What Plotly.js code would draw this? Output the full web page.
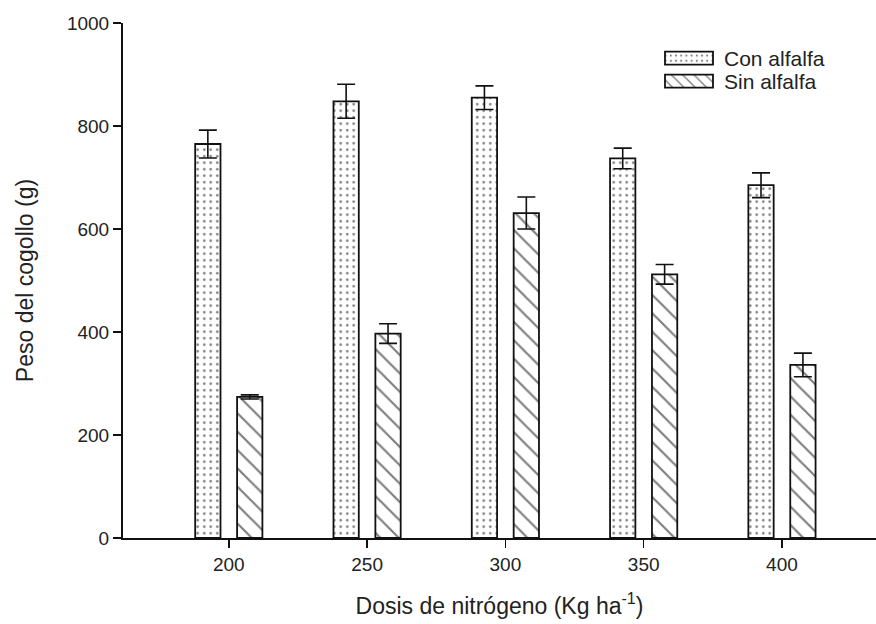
<!DOCTYPE html>
<html>
<head>
<meta charset="utf-8">
<script src="https://cdn.plot.ly/plotly-3.0.1.min.js"></script>
<style>
  html, body { margin: 0; padding: 0; background: #fff; }
  #chart { width: 876px; height: 624px; }
</style>
</head>
<body>
<div id="chart"></div>
<script>
const categories = ["200", "250", "300", "350", "400"];
const conAlfalfa = [765, 848, 855, 737, 685];
const conAlfalfaErr = [27, 33, 23, 20, 24];
const sinAlfalfa = [274, 397, 631, 512, 336];
const sinAlfalfaErr = [4, 19, 31, 19, 23];
const yTicks = [0, 200, 400, 600, 800, 1000];

const FONT = "Liberation Sans, Arial, sans-serif";

const data = [
  {
    type: "bar",
    name: "Con alfalfa",
    x: categories,
    y: conAlfalfa,
    width: 0.183,
    offset: -0.243,
    marker: {
      color: "#ffffff",
      line: { color: "#111", width: 1.8 },
      pattern: { shape: ".", fgcolor: "#000", bgcolor: "#ffffff", size: 6.5, solidity: 0.13, fillmode: "overlay" }
    },
    error_y: { type: "data", array: conAlfalfaErr, visible: true, color: "#111", thickness: 1.6, width: 9 }
  },
  {
    type: "bar",
    name: "Sin alfalfa",
    x: categories,
    y: sinAlfalfa,
    width: 0.183,
    offset: 0.06,
    marker: {
      color: "#ffffff",
      line: { color: "#111", width: 1.8 },
      pattern: { shape: "\\", fgcolor: "#000", bgcolor: "#ffffff", size: 13, solidity: 0.17, fillmode: "overlay" }
    },
    error_y: { type: "data", array: sinAlfalfaErr, visible: true, color: "#111", thickness: 1.6, width: 9 }
  }
];

const layout = {
  width: 876,
  height: 624,
  margin: { l: 123, r: 0, t: 23, b: 86, autoexpand: false },
  paper_bgcolor: "#ffffff",
  plot_bgcolor: "#ffffff",
  font: { family: FONT, color: "#222", size: 19 },
  barmode: "overlay",
  showlegend: true,
  legend: {
    xref: "container", yref: "container",
    x: 654 / 876, y: 1 - 38 / 624,
    xanchor: "left", yanchor: "top",
    bgcolor: "rgba(0,0,0,0)",
    font: { family: FONT, size: 21, color: "#222" },
    itemwidth: 60,
    tracegroupgap: 0
  },
  xaxis: {
    type: "category",
    range: [-0.765, 4.68],
    showline: true, linecolor: "#111", linewidth: 2,
    ticks: "outside", ticklen: 8, tickwidth: 1.6, tickcolor: "#111",
    showgrid: false, zeroline: false,
    tickfont: { family: FONT, size: 19, color: "#222" },
    title: { text: "Dosis de nitrógeno (Kg ha<sup>-1</sup>)", font: { family: FONT, size: 23, color: "#222" }, standoff: 24 }
  },
  yaxis: {
    range: [0, 1000],
    tickvals: yTicks,
    showline: true, linecolor: "#111", linewidth: 2,
    ticks: "outside", ticklen: 8, tickwidth: 1.6, tickcolor: "#111",
    showgrid: false, zeroline: false,
    tickfont: { family: FONT, size: 19, color: "#222" },
    title: { text: "Peso del cogollo (g)", font: { family: FONT, size: 23, color: "#222" }, standoff: 27 }
  }
};

Plotly.newPlot("chart", data, layout, { staticPlot: true, displayModeBar: false }).then(function (gd) {
  gd.querySelectorAll(".legend .legendpoints path").forEach(function (p) {
    p.setAttribute("d", "M-24,-6.5H24V6.5H-24Z");
  });
  var items = gd.querySelectorAll(".legend .traces");
  if (items.length === 2) {
    var t0 = items[0].getAttribute("transform") || "";
    var m = /translate\(\s*([-\d.]+)[ ,]+([-\d.]+)/.exec(t0);
    if (m) {
      items[1].setAttribute("transform", "translate(" + m[1] + "," + (parseFloat(m[2]) + 23) + ")");
    }
  }
});
</script>
</body>
</html>
